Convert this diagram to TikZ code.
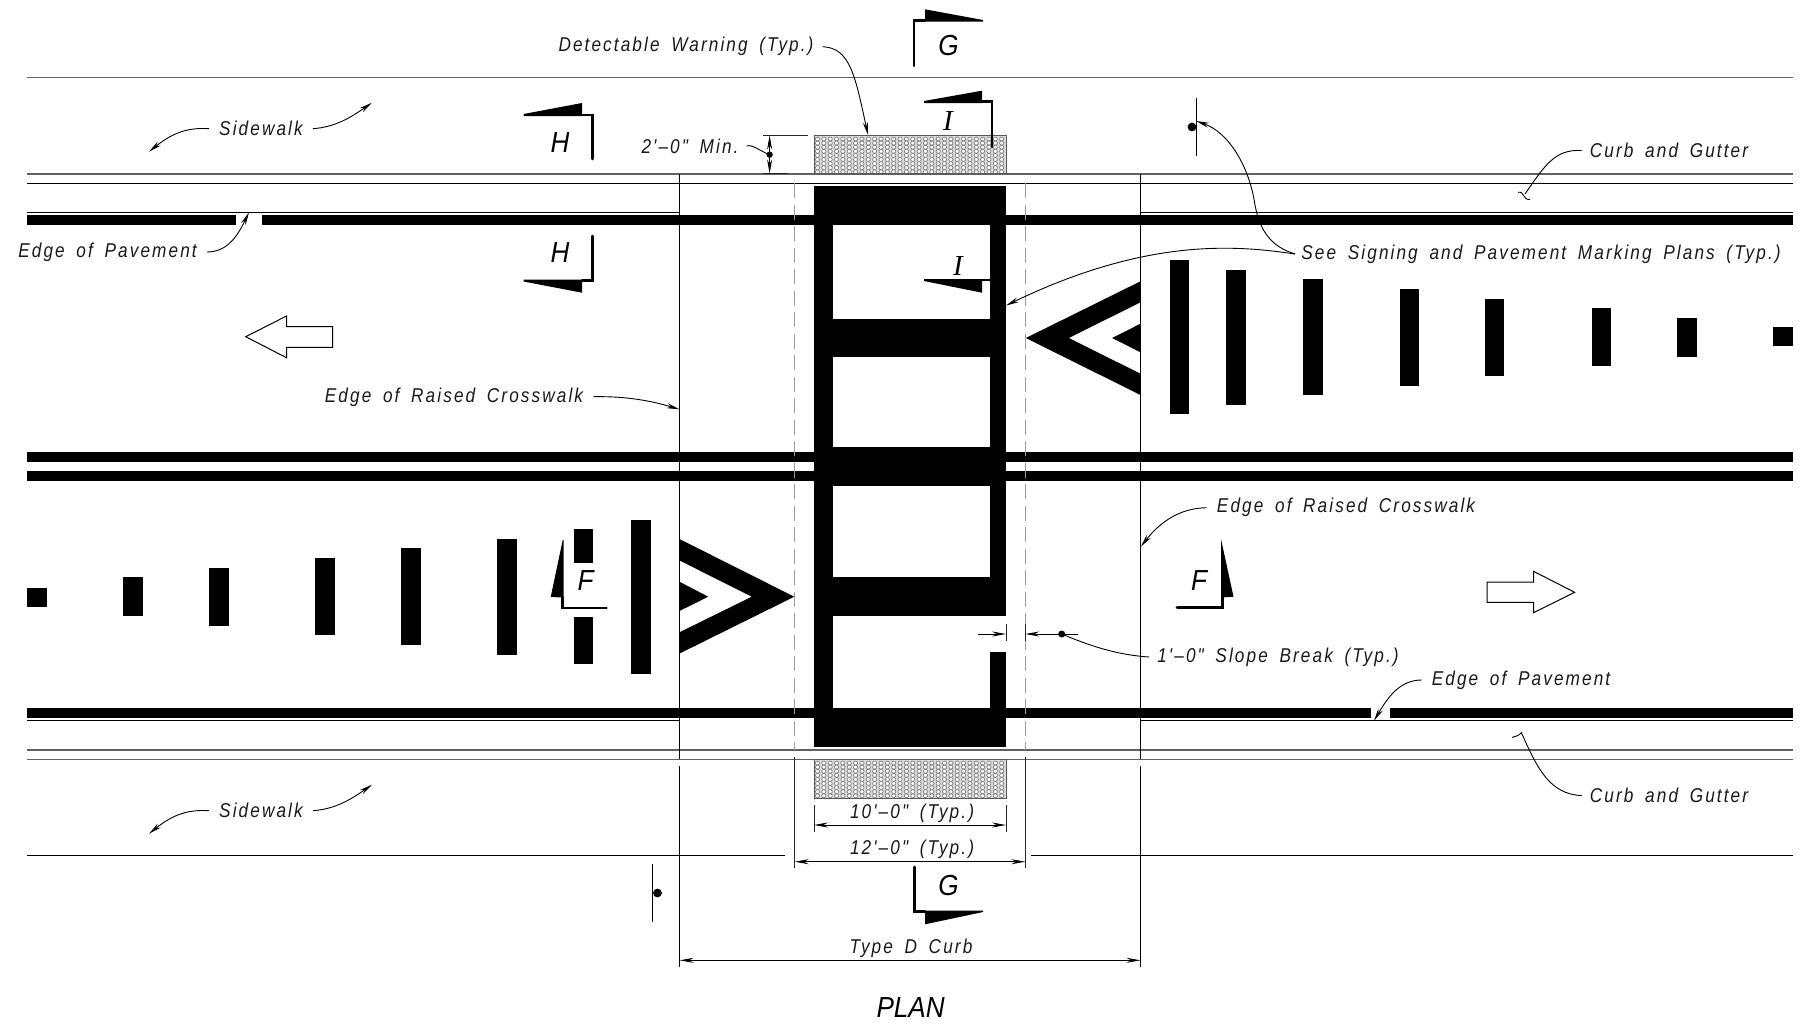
\documentclass[tikz,border=0pt]{standalone}
\usepackage{fontspec}
\usetikzlibrary{arrows.meta}
\newfontfamily\lblfam[FakeStretch=0.86,LetterSpace=10.5,WordSpace=1.7]{Liberation Sans}
\newfontfamily\secfam[FakeStretch=0.9]{Liberation Sans}
\newfontfamily\serfam{Liberation Serif}
\tikzset{
  thinln/.style={black,line width=1pt},
  curbln/.style={black!62,line width=1.5pt},
  stripe/.style={fill=black},
  dashln/.style={black!38,line width=1.4pt,dash pattern=on 15pt off 6.5pt},
  extln/.style={black!85,line width=1pt},
  lead/.style={black,line width=0.9pt},
  leadar/.style={lead,-{Stealth[length=13pt,width=5pt]}},
  dimar/.style={black,line width=0.9pt,{Stealth[length=14pt,width=5pt]}-{Stealth[length=14pt,width=5pt]}},
  secln/.style={black,line width=2.6pt,line cap=round,line join=miter},
  lbl/.style={inner sep=0pt,yshift=-1pt,font=\lblfam\itshape\fontsize{20}{22}\selectfont,text=black!90},
  sec/.style={inner sep=0pt,font=\secfam\itshape\fontsize{29}{31}\selectfont},
  openar/.style={draw=black,line width=1pt,fill=white},
  warn/.style={fill=black!14},
  warnedge/.style={draw=black!65,line width=1pt},
  warndot/.style={draw=black!48,fill=white,line width=0.75pt},
}
\begin{document}
\begin{tikzpicture}[x=1pt,y=-1pt]
\useasboundingbox (0,0) rectangle (1803,1029);
% horizontal road lines
\draw[curbln] (27,77.7) -- (1793,77.7);
\draw[curbln] (27,174) -- (1793,174);
\draw[thinln] (27,183.3) -- (1793,183.3);
\draw[thinln] (27,212.3) -- (680,212.3) (1140.5,212.3) -- (1793,212.3);
\draw[thinln] (27,720.7) -- (680,720.7) (1140.5,720.7) -- (1793,720.7);
\draw[curbln] (27,750) -- (1793,750);
\draw[curbln] (27,759.3) -- (1793,759.3);
\draw[thinln] (27,855) -- (785,855) (1031.4,855) -- (1793,855);
% pavement stripes
\fill[stripe] (27,215) rectangle (236,225);
\fill[stripe] (262,215) rectangle (1793,225);
\fill[stripe] (27,452) rectangle (1793,462);
\fill[stripe] (27,471) rectangle (1793,481);
\fill[stripe] (27,708) rectangle (1371,718);
\fill[stripe] (1390,708) rectangle (1793,718);
% crosswalk
\fill[stripe] (814,186) rectangle (1006,225);
\fill[stripe] (814,318.5) rectangle (1006,356.5);
\fill[stripe] (814,446.7) rectangle (1006,485.7);
\fill[stripe] (814,576.7) rectangle (1006,615.7);
\fill[stripe] (814,708) rectangle (1006,746.7);
\fill[stripe] (814,186) rectangle (833,746.7);
\fill[stripe] (990,186) rectangle (1006,615.7);
\fill[stripe] (990,651.7) rectangle (1006,746.7);
% detectable warning
\fill[warn] (814,135.5) rectangle (1006,173.5);
\fill[warn] (814,759.3) rectangle (1006,798);
\foreach \i in {0,...,29}{\foreach \j in {0,...,8}{
  \path[warndot] (817.5+\i*6.35,139+\j*4.1) ellipse (2.1pt and 2pt);
  \path[warndot] (817.5+\i*6.35,763+\j*4.1) ellipse (2.1pt and 2pt);
}}
\draw[warnedge] (814,135.5) rectangle (1006,173.5);
\draw[warnedge] (814,759.3) rectangle (1006,798);
% verticals
\draw[thinln] (679.6,174) -- (679.6,759.3) (679.6,766) -- (679.6,967);
\draw[thinln] (1140.5,174) -- (1140.5,759.3) (1140.5,766) -- (1140.5,967);
\draw[dashln] (794.7,183.3) -- (794.7,750);
\draw[dashln] (1025.3,183.3) -- (1025.3,750);
\draw[extln] (794.7,757) -- (794.7,868);
\draw[extln] (1025.3,757) -- (1025.3,868);
% chevrons
\fill[stripe] (680,539.3) -- (794.3,596.7) -- (680,653.3) -- (680,632) -- (751.7,596.7) -- (680,560.7) -- cycle;
\fill[stripe] (680,582) -- (708.3,596.7) -- (680,610.7) -- cycle;
\fill[stripe] (1140.5,281.3) -- (1025.8,338) -- (1140.5,395) -- (1140.5,373.7) -- (1068.8,338) -- (1140.5,302.3) -- cycle;
\fill[stripe] (1140.5,323.7) -- (1112.2,338) -- (1140.5,352.3) -- cycle;
% left bars
\fill[stripe] (27,587.6) rectangle (47,607);
\fill[stripe] (123,577) rectangle (143,616);
\fill[stripe] (209,568) rectangle (229,626);
\fill[stripe] (315,558) rectangle (335,635);
\fill[stripe] (401,548) rectangle (421,645);
\fill[stripe] (497,539) rectangle (517,655);
\fill[stripe] (574,529) rectangle (593,562.7);
\fill[stripe] (574,617) rectangle (593,663.7);
\fill[stripe] (631,520) rectangle (651,674);
% right bars
\fill[stripe] (1169.5,260) rectangle (1189,414);
\fill[stripe] (1226,270) rectangle (1245.5,405);
\fill[stripe] (1303,279) rectangle (1322.5,395);
\fill[stripe] (1399.5,289) rectangle (1419,386);
\fill[stripe] (1484.5,299) rectangle (1504,376);
\fill[stripe] (1591.6,308) rectangle (1611,366);
\fill[stripe] (1677,318) rectangle (1697,357);
\fill[stripe] (1773,327) rectangle (1792.8,346);
% open arrows
\draw[openar] (245.7,336.7) -- (286.5,316) -- (286.5,326.7) -- (332.6,326.7) -- (332.6,347.3) -- (286.5,347.3) -- (286.5,357.7) -- cycle;
\draw[openar] (1574.7,592.3) -- (1533.5,571.3) -- (1533.5,582) -- (1487,582) -- (1487,602.3) -- (1533.5,602.3) -- (1533.5,612.7) -- cycle;
% section marks
\draw[secln] (914,66) -- (914,20.7) -- (925,20.7);
\fill (925,9.3) -- (983,20) -- (983,21.5) -- (925,21.5) -- cycle;
\node[sec] (secGt) at (948.5,46) {G};
\draw[secln] (914.3,867) -- (914.3,911.7) -- (925,911.7);
\fill (925,910.5) -- (983,910.5) -- (983,912) -- (925,924.3) -- cycle;
\node[sec] (secGb) at (948.6,885) {G};
\draw[secln] (992,147) -- (992,101.7) -- (982,101.7);
\fill (924,101) -- (982,90.7) -- (982,103) -- (924,103) -- cycle;
\node[sec,font=\serfam\itshape\fontsize{29}{31}\selectfont] (secIt) at (948,120.7) {I};
\draw[secln] (990,280) -- (982,280);
\fill (924,279) -- (982,279) -- (982,292.7) -- (924,281) -- cycle;
\node[sec,font=\serfam\itshape\fontsize{29}{31}\selectfont] (secIb) at (958,266) {I};
\draw[secln] (592.5,159) -- (592.5,115) -- (582,115);
\fill (523.6,114) -- (582,103) -- (582,116) -- (523.6,116) -- cycle;
\node[sec] (secHt) at (560,142.7) {H};
\draw[secln] (592.5,236) -- (592.5,280.7) -- (582,280.7);
\fill (523.6,279.5) -- (582,279.5) -- (582,292.7) -- (523.6,281.5) -- cycle;
\node[sec] (secHb) at (560,253) {H};
\draw[secln] (1177,607.3) -- (1222.4,607.3) -- (1222.4,596.7);
\fill (1221,539) -- (1233.5,596.7) -- (1221,597.5) -- cycle;
\node[sec] (secFr) at (1199,580.7) {F};
\draw[secln] (606.5,608) -- (562.5,608) -- (562.5,597);
\fill (562.7,540) -- (550.7,597) -- (563.5,597.5) -- (563.5,540) -- cycle;
\node[sec] (secFl) at (585.7,581) {F};
% signs
\draw[thinln] (1196,98) -- (1196,155.7);
\fill (1192,127) circle (4.4pt);
\draw[thinln] (652.7,864) -- (652.7,921.7);
\fill (657.5,893) circle (4.4pt);
% dimensions
\draw[extln] (763,135.5) -- (807.5,135.5);
\draw[extln] (763,173.5) -- (788,173.5);
\coordinate (dTop) at (769.6,135.5);
\coordinate (dBot) at (769.6,173.5);
\draw[dimar] (dTop) -- (dBot);
\fill (769.6,154.7) circle (3.2pt) coordinate (dMin);
\coordinate (d10a) at (814,825); \coordinate (d10b) at (1006,825);
\draw[extln] (814,805) -- (814,831.7) (1006,805) -- (1006,831.7);
\draw[dimar] (d10a) -- (d10b);
\coordinate (d12a) at (794.7,861.7); \coordinate (d12b) at (1025.3,861.7);
\draw[dimar] (d12a) -- (d12b);
\coordinate (dDa) at (679.6,960.3); \coordinate (dDb) at (1140.5,960.3);
\draw[dimar] (dDa) -- (dDb);
\coordinate (s1a) at (978.3,634); \coordinate (s1b) at (1006,634);
\coordinate (s2a) at (1078,634); \coordinate (s2b) at (1025.3,634);
\draw[lead,-{Stealth[length=14pt,width=5pt]}] (s1a) -- (s1b);
\draw[lead,-{Stealth[length=14pt,width=5pt]}] (s2a) -- (s2b);
\draw[extln] (1006,624.3) -- (1006,640.7);
\draw[extln] (1025.3,624.3) -- (1025.3,640.7);
\fill (1061.7,634) circle (3.5pt) coordinate (sDot);
% labels
\node[lbl] (tDW) at (686,45.7) {Detectable Warning (Typ.)};
\node[lbl] (tMin) at (690,145) {2'–0" Min.};
\node[lbl] (tSW1) at (261,127.7) {Sidewalk};
\node[lbl] (tSW2) at (261,809.7) {Sidewalk};
\node[lbl] (tEP1) at (107.5,251) {Edge of Pavement};
\node[lbl] (tER1) at (454,396.7) {Edge of Raised Crosswalk};
\node[lbl] (tER2) at (1346,506.7) {Edge of Raised Crosswalk};
\node[lbl] (tSB) at (1278,656) {1'–0" Slope Break (Typ.)};
\node[lbl] (tEP2) at (1521,679) {Edge of Pavement};
\node[lbl] (tCG1) at (1669,149.5) {Curb and Gutter};
\node[lbl] (tCG2) at (1669,794.6) {Curb and Gutter};
\node[lbl] (tSee) at (1541,253) {See Signing and Pavement Marking Plans (Typ.)};
\node[lbl] (t10) at (912,812.3) {10'–0" (Typ.)};
\node[lbl] (t12) at (912,848.3) {12'–0" (Typ.)};
\node[lbl] (tD) at (911,947.3) {Type D Curb};
\node[sec] (tPlan) at (910.6,1008) {PLAN};
% leaders
\coordinate (eDW) at (868,135);
\draw[leadar] ([xshift=9pt]tDW.east) .. controls (850,48) and (855,75) .. (eDW);
\draw[lead] ([xshift=8pt]tMin.east) .. controls (752,144) and (760,151) .. (dMin);
\coordinate (eS1a) at (149,151.7); \coordinate (eS1b) at (372,102.7);
\draw[leadar] ([xshift=-10pt]tSW1.west) .. controls (185,127) and (170,135) .. (eS1a);
\draw[leadar] ([xshift=10pt]tSW1.east) .. controls (335,127) and (350,118) .. (eS1b);
\coordinate (eS2a) at (149,833.7); \coordinate (eS2b) at (372,784.7);
\draw[leadar] ([xshift=-10pt]tSW2.west) .. controls (185,809) and (170,817) .. (eS2a);
\draw[leadar] ([xshift=10pt]tSW2.east) .. controls (335,809) and (350,800) .. (eS2b);
\coordinate (eEP1) at (249,212.3);
\draw[leadar] ([xshift=10pt]tEP1.east) .. controls (228,252) and (238,235) .. (eEP1);
\coordinate (eER1) at (679.6,409.4);
\draw[leadar] ([xshift=10pt,yshift=1pt]tER1.east) .. controls (630,396) and (655,402) .. (eER1);
\coordinate (eER2) at (1140.8,546.7);
\draw[leadar] ([xshift=-10pt]tER2.west) .. controls (1180,508) and (1160,522) .. (eER2);
\draw[lead] ([xshift=-8pt]tSB.west) .. controls (1120,655) and (1095,648) .. (sDot);
\coordinate (eEP2) at (1374,720.7);
\draw[leadar] ([xshift=-10pt]tEP2.west) .. controls (1400,680) and (1388,697) .. (eEP2);
\coordinate (eC1) at (1525,194);
\draw[lead] ([xshift=-8pt]tCG1.west) .. controls (1555,149) and (1545,165) .. (eC1);
\draw[lead] (1518,192.3) .. controls (1525,191) and (1522,200) .. (1530,199.5);
\coordinate (eC2) at (1521.5,733);
\draw[lead] ([xshift=-8pt]tCG2.west) .. controls (1550,794) and (1538,770) .. (eC2);
\draw[lead] (1512,737.5) .. controls (1518,735) and (1517,737) .. (1522,732);
\coordinate (eSa) at (1006,305.5); \coordinate (eSb) at (1196,121); \coordinate (mSb) at (1255,205);
\draw[leadar] ([xshift=-6pt]tSee.west) .. controls (1240,246) and (1150,236) .. (eSa);
\draw[leadar] ([xshift=-6pt]tSee.west) .. controls (1272,247) and (1260,232) .. (mSb) .. controls (1249,165) and (1228,132) .. (eSb);
\end{tikzpicture}
\end{document}
